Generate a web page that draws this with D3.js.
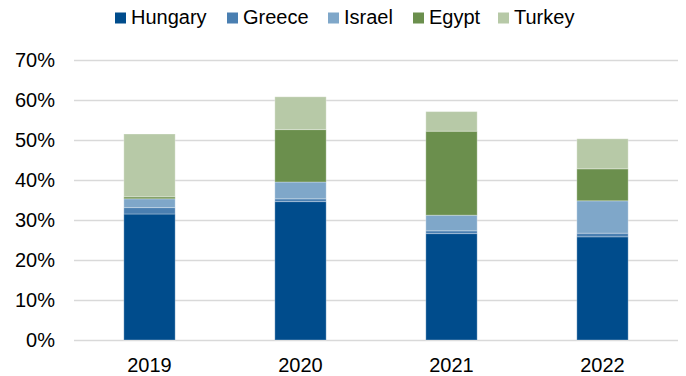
<!DOCTYPE html>
<html>
<head>
<meta charset="utf-8">
<script src="https://cdn.jsdelivr.net/npm/d3@7"></script>
<style>
  body { margin: 0; background: #fff; }
  text { font-family: "Liberation Sans", Arial, sans-serif; }
</style>
</head>
<body>
<div id="chart"></div>
<script>
// data (percent)
var years = ["2019", "2020", "2021", "2022"];
var countries = ["Hungary", "Greece", "Israel", "Egypt", "Turkey"];
var hungary = [31.5, 34.6, 26.6, 25.8];
var greece = [1.6, 0.7, 0.7, 0.9];
var israel = [2.2, 4.2, 3.9, 8.1];
var egypt = [0.5, 13.1, 21.0, 8.0];
var turkey = [15.7, 8.2, 4.9, 7.5];
var yTicks = [0, 10, 20, 30, 40, 50, 60, 70];

var colors = ["#004c8c", "#4a7fb1", "#7fa7c9", "#6b8f4d", "#b7c9a7"];

var width = 686, height = 376;
var margin = {top: 60, right: 8, bottom: 36, left: 74};

var svg = d3.select("#chart")
    .append("svg")
    .attr("width", width)
    .attr("height", height);

var series = [hungary, greece, israel, egypt, turkey];
var rows = years.map(function(y, i) {
    var r = {year: y};
    countries.forEach(function(c, k) { r[c] = series[k][i]; });
    return r;
});

var stacked = d3.stack().keys(countries)(rows);

var x = d3.scaleBand()
    .domain(years)
    .range([margin.left, width - margin.right])
    .paddingInner(0.66)
    .paddingOuter(0.33);

var y = d3.scaleLinear()
    .domain([0, 70])
    .range([height - margin.bottom, margin.top]);

// gridlines
svg.append("g")
    .selectAll("line")
    .data(yTicks)
    .enter()
    .append("line")
    .attr("x1", margin.left)
    .attr("x2", width - margin.right)
    .attr("y1", function(d) { return y(d) + 0.5; })
    .attr("y2", function(d) { return y(d) + 0.5; })
    .attr("stroke", "#d9d9d9")
    .attr("stroke-width", 1.3);

// y labels
svg.append("g")
    .selectAll("text")
    .data(yTicks)
    .enter()
    .append("text")
    .attr("x", 55)
    .attr("y", function(d) { return y(d); })
    .attr("dy", "0.36em")
    .attr("text-anchor", "end")
    .attr("font-size", 20)
    .attr("fill", "#000")
    .text(function(d) { return d + "%"; });

// bars
svg.append("g")
    .selectAll("g")
    .data(stacked)
    .enter()
    .append("g")
    .attr("fill", function(d, i) { return colors[i]; })
    .selectAll("rect")
    .data(function(d) { return d; })
    .enter()
    .append("rect")
    .attr("x", function(d) { return x(d.data.year); })
    .attr("y", function(d) { return y(d[1]); })
    .attr("width", x.bandwidth())
    .attr("height", function(d) { return y(d[0]) - y(d[1]); })
    .attr("stroke", "rgba(255,255,255,0.3)")
    .attr("stroke-width", 1);

// x labels
svg.append("g")
    .selectAll("text")
    .data(years)
    .enter()
    .append("text")
    .attr("x", function(d) { return x(d) + x.bandwidth() / 2; })
    .attr("y", height - margin.bottom + 32)
    .attr("text-anchor", "middle")
    .attr("font-size", 20)
    .attr("fill", "#000")
    .text(function(d) { return d; });

// legend
var legendX = [115, 227, 328, 413, 498];
var legend = svg.append("g");
countries.forEach(function(c, i) {
    var g = legend.append("g").attr("transform", "translate(" + legendX[i] + ",18)");
    g.append("rect")
        .attr("x", 0)
        .attr("y", -5.5)
        .attr("width", 11)
        .attr("height", 11)
        .attr("fill", colors[i]);
    g.append("text")
        .attr("x", 16)
        .attr("y", 6)
        .attr("font-size", 20)
        .attr("fill", "#000")
        .text(c);
});
</script>
</body>
</html>
